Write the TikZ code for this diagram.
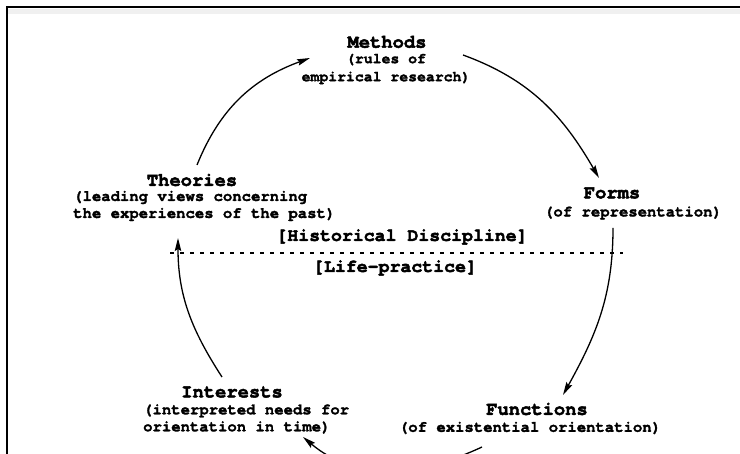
\documentclass[tikz,border=0pt]{standalone}
\usepackage{fontspec}
\newfontfamily\tw{TeX Gyre Cursor}[BoldFeatures={FakeBold=1.8}]
\newfontfamily\twh{TeX Gyre Cursor}[BoldFeatures={FakeBold=2.6}]
\usetikzlibrary{arrows.meta}
\begin{document}
\begin{tikzpicture}[x=1pt,y=1pt,
  ttl/.style={font=\twh\bfseries\fontsize{18.8}{20}\selectfont, inner sep=0pt},
  bdy/.style={font=\tw\bfseries\fontsize{15.6}{17}\selectfont, inner sep=0pt},
  bdys/.style={font=\tw\bfseries\fontsize{14.8}{18}\selectfont, inner sep=0pt},
  brk/.style={font=\twh\bfseries\fontsize{18.2}{20}\selectfont, inner sep=0pt},
  arr/.style={line width=1.3pt, -{Stealth[length=13pt,width=6.5pt,inset=2pt]}},
  ]
\useasboundingbox (0,0) rectangle (740,-454);
\fill[white] (0,0) rectangle (740,-454);
\clip (0,0) rectangle (740,-454);
% frame
\fill[gray!12] (8,-9) rectangle (740,-14);
\draw[line width=2.6pt] (7,-454) -- (7,-7) -- (740,-7);

% nodes
\node[ttl] (methT) at (387,-42) {Methods};
\node[bdys, align=center] (methB) at (386,-69) {(rules of\\empirical research)};
\node[ttl] (formT) at (612,-193) {Forms};
\node[bdy] (formB) at (633,-213) {(of representation)};
\node[ttl] (theoT) at (192,-180) {Theories};
\node[bdy, align=left, anchor=west] (theoB) at (73,-206) {(leading views concerning\\the experiences of the past)};
\node[brk] (hist) at (402,-237) {[Historical Discipline]};
\node[brk] (life) at (395,-268) {[Life-practice]};
\node[ttl] (intT) at (232,-392) {Interests};
\node[bdy, align=left, anchor=west] (intB) at (143,-419) {(interpreted needs for\\orientation in time)};
\node[ttl] (funT) at (537,-409) {Functions};
\node[bdy] (funB) at (530,-428) {(of existential orientation)};

% dashed border between discipline and life-practice
\coordinate (dl) at (170,-253);
\coordinate (dr) at (623,-253);
\draw[dash pattern=on 4pt off 6pt, line width=1.4pt] (dl) -- (dr);

% connector end points
\coordinate (a1s) at (197,-165); \coordinate (a1e) at (310,-58);
\coordinate (a2s) at (463,-55);  \coordinate (a2e) at (599,-178);
\coordinate (a3s) at (613,-228); \coordinate (a3e) at (563,-395);
\coordinate (a4s) at (482,-447); \coordinate (a4e) at (303,-437);
\coordinate (a5s) at (222,-377); \coordinate (a5e) at (178,-238);

\draw[arr] (a1s) to[out=68,in=200] (a1e);
\draw[arr] (a2s) to[out=-20,in=120] (a2e);
\draw[arr] (a3s) to[out=-90,in=61] (a3e);
\draw[arr] (a4s) to[out=205,in=-40] (a4e);
\draw[arr] (a5s) to[out=123,in=-90] (a5e);
\end{tikzpicture}
\end{document}
